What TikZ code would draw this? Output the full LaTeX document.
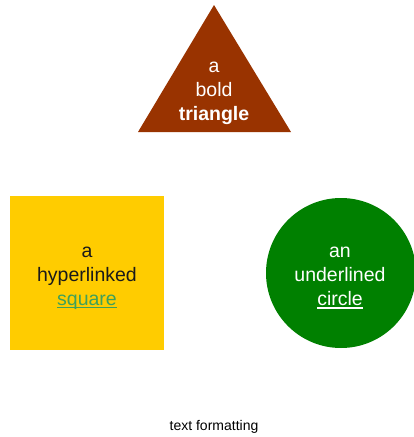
\documentclass[tikz,border=0pt]{standalone}
\usepackage{fontspec}
\setmainfont{Liberation Sans}
\definecolor{tribrown}{HTML}{993300}
\definecolor{sqyellow}{HTML}{FFCC00}
\definecolor{cirgreen}{HTML}{008000}
\definecolor{linkgreen}{HTML}{3FA05A}
\definecolor{darktext}{HTML}{1A1A1A}
\newcommand\myul[1]{\setbox0\hbox{#1}\rlap{\rule[-3pt]{\wd0}{1.3pt}}\box0}
\begin{document}
\begin{tikzpicture}[x=1pt,y=-1pt,
  shapetext/.style={align=center,font=\fontsize{19.5}{24}\selectfont,inner sep=0pt},
  caption/.style={font=\fontsize{14}{16}\selectfont,inner sep=0pt}]
\useasboundingbox[fill=white] (0,0) rectangle (414,437);
% triangle
\fill[tribrown] (214,5) -- (291,132) -- (138,132) -- cycle;
\node[shapetext,text=white] (tri) at (214,93) {a\\bold\\\textbf{triangle}};
% square
\fill[sqyellow] (10,196) rectangle (164,350);
\node[shapetext,text=darktext] (sq) at (87,278) {a\\hyperlinked\\\textcolor{linkgreen}{\myul{square}}};
% circle
\fill[cirgreen] (341,273) circle[radius=75];
\node[shapetext,text=white] (cir) at (340,278) {an\\underlined\\\myul{circle}};
% caption
\node[caption] (cap) at (214,427) {text formatting};
\end{tikzpicture}
\end{document}
